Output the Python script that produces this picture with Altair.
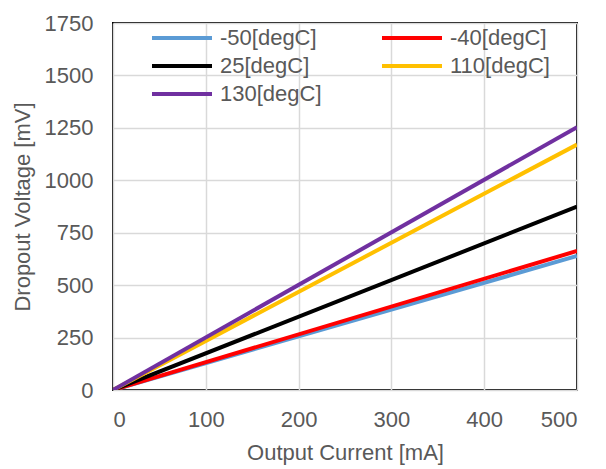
import altair as alt
import pandas as pd

series = ["-50[degC]", "-40[degC]", "25[degC]", "110[degC]", "130[degC]"]
colors = ["#5b9bd5", "#ff0000", "#000000", "#ffc000", "#7030a0"]
# legend fills column by column: order entries so rows read -50,-40 / 25,110 / 130
legend_order = ["-50[degC]", "25[degC]", "130[degC]", "-40[degC]", "110[degC]"]
current_ma = [0, 500]
dropout_mv = {
    "-50[degC]": [0, 639],
    "-40[degC]": [0, 663],
    "25[degC]": [0, 874],
    "110[degC]": [0, 1170],
    "130[degC]": [0, 1253],
}

rows = []
for k, s in enumerate(series):
    for i, x in enumerate(current_ma):
        rows.append({"series": s, "idx": k, "current": x, "voltage": dropout_mv[s][i]})
df = pd.DataFrame(rows)

color_map = dict(zip(series, colors))
font = "Liberation Sans"
gray = "#595959"
fs = 22

chart = alt.Chart(df).mark_line(strokeWidth=4, clip=True).encode(
    x=alt.X("current:Q", title="Output Current [mA]",
            scale=alt.Scale(domain=[0, 500], nice=False),
            axis=alt.Axis(values=[0, 100, 200, 300, 400, 500], grid=True,
                          tickSize=0, labelPadding=19, titlePadding=12,
                          domain=False, format="d")),
    y=alt.Y("voltage:Q", title="Dropout Voltage [mV]",
            scale=alt.Scale(domain=[0, 1750], nice=False),
            axis=alt.Axis(values=[0, 250, 500, 750, 1000, 1250, 1500, 1750],
                          grid=True, tickSize=0, labelPadding=20,
                          titlePadding=10, domain=False, format="d")),
    color=alt.Color("series:N",
                    scale=alt.Scale(domain=legend_order,
                                    range=[color_map[s] for s in legend_order]),
                    legend=alt.Legend(title=None, orient="none", legendX=34, legendY=4,
                                      columns=2, symbolType="M-1,0H9",
                                      symbolSize=144, symbolStrokeWidth=4,
                                      labelFontSize=fs, labelFont=font,
                                      labelColor=gray, labelOffset=51,
                                      columnPadding=52, rowPadding=6)),
    order=alt.Order("idx:Q", sort="ascending"),
).properties(
    width=464, height=367,
    autosize=alt.AutoSizeParams(type="none"),
    padding={"left": 105, "top": 15, "right": 20, "bottom": 76},
    background="white",
).configure_axis(
    labelFont=font, titleFont=font, labelFontSize=fs, titleFontSize=fs,
    labelColor=gray, titleColor=gray, titleFontWeight="normal",
    gridColor="#d9d9d9", gridWidth=1.5,
).configure_view(
    stroke="black", strokeWidth=2,
)

chart.save("out.html", embed_options={"renderer": "svg", "actions": False})
